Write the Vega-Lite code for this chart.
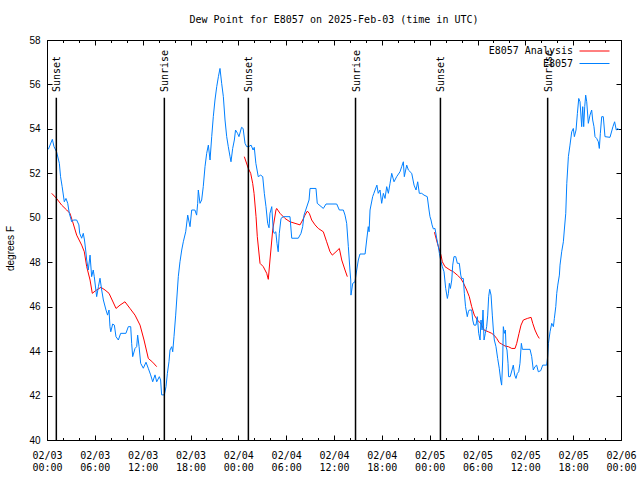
{
"$schema":"https://vega.github.io/schema/vega-lite/v6.json",
"width":574,"height":400,
"autosize":{"type":"none"},
"padding":{"left":47,"top":40,"right":19,"bottom":40},
"background":"white",
"title":{"text":"Dew Point for E8057 on 2025-Feb-03 (time in UTC)","font":"DejaVu Sans Mono","fontSize":10,"fontWeight":"normal","offset":10,"anchor":"middle","color":"black"},
"config":{"view":{"stroke":"black","strokeWidth":1},"axis":{"grid":false,"domain":false,"tickColor":"black","labelColor":"black","titleColor":"black"}},
"datasets":{
"sun":[
{"h":1.17,"label":"Sunset"},{"h":14.72,"label":"Sunrise"},{"h":25.26,"label":"Sunset"},
{"h":38.7,"label":"Sunrise"},{"h":49.35,"label":"Sunset"},{"h":62.8,"label":"Sunrise"}],
"dew":[
{"h":0.59,"v":51.1,"s":"E8057 Analysis","g":"a1"},{"h":1.2,"v":50.87,"s":"E8057 Analysis","g":"a1"},{"h":1.84,"v":50.57,"s":"E8057 Analysis","g":"a1"},{"h":2.47,"v":50.35,"s":"E8057 Analysis","g":"a1"},{"h":2.88,"v":50.2,"s":"E8057 Analysis","g":"a1"},{"h":3.22,"v":49.82,"s":"E8057 Analysis","g":"a1"},{"h":3.72,"v":49.22,"s":"E8057 Analysis","g":"a1"},{"h":4.35,"v":48.77,"s":"E8057 Analysis","g":"a1"},{"h":4.68,"v":48.47,"s":"E8057 Analysis","g":"a1"},{"h":4.98,"v":47.8,"s":"E8057 Analysis","g":"a1"},{"h":5.4,"v":47.2,"s":"E8057 Analysis","g":"a1"},{"h":5.68,"v":46.6,"s":"E8057 Analysis","g":"a1"},{"h":6.1,"v":46.72,"s":"E8057 Analysis","g":"a1"},{"h":6.77,"v":46.87,"s":"E8057 Analysis","g":"a1"},{"h":7.28,"v":46.75,"s":"E8057 Analysis","g":"a1"},{"h":7.78,"v":46.6,"s":"E8057 Analysis","g":"a1"},{"h":8.66,"v":45.92,"s":"E8057 Analysis","g":"a1"},{"h":9.16,"v":46.07,"s":"E8057 Analysis","g":"a1"},{"h":9.78,"v":46.22,"s":"E8057 Analysis","g":"a1"},{"h":10.41,"v":45.92,"s":"E8057 Analysis","g":"a1"},{"h":11.04,"v":45.62,"s":"E8057 Analysis","g":"a1"},{"h":11.67,"v":45.17,"s":"E8057 Analysis","g":"a1"},{"h":12.17,"v":44.5,"s":"E8057 Analysis","g":"a1"},{"h":12.71,"v":43.67,"s":"E8057 Analysis","g":"a1"},{"h":13.26,"v":43.5,"s":"E8057 Analysis","g":"a1"},{"h":13.76,"v":43.3,"s":"E8057 Analysis","g":"a1"},
{"h":24.75,"v":52.75,"s":"E8057 Analysis","g":"a2"},{"h":25.25,"v":52.22,"s":"E8057 Analysis","g":"a2"},{"h":25.55,"v":52.0,"s":"E8057 Analysis","g":"a2"},{"h":25.8,"v":51.55,"s":"E8057 Analysis","g":"a2"},{"h":25.97,"v":51.1,"s":"E8057 Analysis","g":"a2"},{"h":26.22,"v":50.05,"s":"E8057 Analysis","g":"a2"},{"h":26.38,"v":49.15,"s":"E8057 Analysis","g":"a2"},{"h":26.72,"v":47.95,"s":"E8057 Analysis","g":"a2"},{"h":27.13,"v":47.8,"s":"E8057 Analysis","g":"a2"},{"h":27.56,"v":47.5,"s":"E8057 Analysis","g":"a2"},{"h":27.76,"v":47.23,"s":"E8057 Analysis","g":"a2"},{"h":27.97,"v":48.1,"s":"E8057 Analysis","g":"a2"},{"h":28.31,"v":49.45,"s":"E8057 Analysis","g":"a2"},{"h":28.72,"v":50.35,"s":"E8057 Analysis","g":"a2"},{"h":28.81,"v":50.42,"s":"E8057 Analysis","g":"a2"},{"h":29.23,"v":50.2,"s":"E8057 Analysis","g":"a2"},{"h":29.85,"v":49.97,"s":"E8057 Analysis","g":"a2"},{"h":30.48,"v":49.82,"s":"E8057 Analysis","g":"a2"},{"h":31.11,"v":49.75,"s":"E8057 Analysis","g":"a2"},{"h":31.74,"v":49.68,"s":"E8057 Analysis","g":"a2"},{"h":32.07,"v":49.9,"s":"E8057 Analysis","g":"a2"},{"h":32.36,"v":50.12,"s":"E8057 Analysis","g":"a2"},{"h":32.66,"v":50.3,"s":"E8057 Analysis","g":"a2"},{"h":32.9,"v":50.2,"s":"E8057 Analysis","g":"a2"},{"h":33.2,"v":49.9,"s":"E8057 Analysis","g":"a2"},{"h":33.62,"v":49.68,"s":"E8057 Analysis","g":"a2"},{"h":34.03,"v":49.52,"s":"E8057 Analysis","g":"a2"},{"h":34.66,"v":49.37,"s":"E8057 Analysis","g":"a2"},{"h":35.08,"v":48.92,"s":"E8057 Analysis","g":"a2"},{"h":35.5,"v":48.47,"s":"E8057 Analysis","g":"a2"},{"h":35.79,"v":48.32,"s":"E8057 Analysis","g":"a2"},{"h":36.25,"v":48.47,"s":"E8057 Analysis","g":"a2"},{"h":36.67,"v":48.62,"s":"E8057 Analysis","g":"a2"},{"h":36.97,"v":48.1,"s":"E8057 Analysis","g":"a2"},{"h":37.38,"v":47.65,"s":"E8057 Analysis","g":"a2"},{"h":37.67,"v":47.35,"s":"E8057 Analysis","g":"a2"},
{"h":48.6,"v":49.35,"s":"E8057 Analysis","g":"a3"},{"h":48.97,"v":48.85,"s":"E8057 Analysis","g":"a3"},{"h":49.22,"v":48.55,"s":"E8057 Analysis","g":"a3"},{"h":49.42,"v":48.32,"s":"E8057 Analysis","g":"a3"},{"h":49.59,"v":48.02,"s":"E8057 Analysis","g":"a3"},{"h":49.92,"v":47.8,"s":"E8057 Analysis","g":"a3"},{"h":50.55,"v":47.65,"s":"E8057 Analysis","g":"a3"},{"h":50.97,"v":47.57,"s":"E8057 Analysis","g":"a3"},{"h":51.47,"v":47.42,"s":"E8057 Analysis","g":"a3"},{"h":51.9,"v":47.27,"s":"E8057 Analysis","g":"a3"},{"h":52.22,"v":47.08,"s":"E8057 Analysis","g":"a3"},{"h":52.64,"v":46.75,"s":"E8057 Analysis","g":"a3"},{"h":52.97,"v":46.45,"s":"E8057 Analysis","g":"a3"},{"h":53.27,"v":46.0,"s":"E8057 Analysis","g":"a3"},{"h":53.6,"v":45.62,"s":"E8057 Analysis","g":"a3"},{"h":53.98,"v":45.4,"s":"E8057 Analysis","g":"a3"},{"h":54.4,"v":45.25,"s":"E8057 Analysis","g":"a3"},{"h":54.82,"v":44.95,"s":"E8057 Analysis","g":"a3"},{"h":55.36,"v":44.87,"s":"E8057 Analysis","g":"a3"},{"h":55.78,"v":44.8,"s":"E8057 Analysis","g":"a3"},{"h":56.07,"v":44.72,"s":"E8057 Analysis","g":"a3"},{"h":56.41,"v":44.57,"s":"E8057 Analysis","g":"a3"},{"h":56.73,"v":44.38,"s":"E8057 Analysis","g":"a3"},{"h":57.03,"v":44.32,"s":"E8057 Analysis","g":"a3"},{"h":57.45,"v":44.23,"s":"E8057 Analysis","g":"a3"},{"h":57.87,"v":44.2,"s":"E8057 Analysis","g":"a3"},{"h":58.3,"v":44.12,"s":"E8057 Analysis","g":"a3"},{"h":58.71,"v":44.12,"s":"E8057 Analysis","g":"a3"},{"h":58.92,"v":44.35,"s":"E8057 Analysis","g":"a3"},{"h":59.21,"v":44.8,"s":"E8057 Analysis","g":"a3"},{"h":59.46,"v":45.17,"s":"E8057 Analysis","g":"a3"},{"h":59.75,"v":45.4,"s":"E8057 Analysis","g":"a3"},{"h":60.25,"v":45.47,"s":"E8057 Analysis","g":"a3"},{"h":60.72,"v":45.52,"s":"E8057 Analysis","g":"a3"},{"h":60.93,"v":45.25,"s":"E8057 Analysis","g":"a3"},{"h":61.21,"v":44.95,"s":"E8057 Analysis","g":"a3"},{"h":61.5,"v":44.72,"s":"E8057 Analysis","g":"a3"},{"h":61.75,"v":44.57,"s":"E8057 Analysis","g":"a3"},
{"h":0.17,"v":53.08,"s":"E8057","g":"o"},{"h":0.67,"v":53.53,"s":"E8057","g":"o"},{"h":0.88,"v":53.2,"s":"E8057","g":"o"},{"h":1.2,"v":52.97,"s":"E8057","g":"o"},{"h":1.55,"v":52.45,"s":"E8057","g":"o"},{"h":1.7,"v":51.85,"s":"E8057","g":"o"},{"h":1.9,"v":51.4,"s":"E8057","g":"o"},{"h":2.17,"v":50.72,"s":"E8057","g":"o"},{"h":2.38,"v":50.87,"s":"E8057","g":"o"},{"h":2.6,"v":50.65,"s":"E8057","g":"o"},{"h":2.8,"v":50.2,"s":"E8057","g":"o"},{"h":3.1,"v":49.82,"s":"E8057","g":"o"},{"h":3.3,"v":49.9,"s":"E8057","g":"o"},{"h":3.72,"v":49.9,"s":"E8057","g":"o"},{"h":4.0,"v":49.68,"s":"E8057","g":"o"},{"h":4.1,"v":49.3,"s":"E8057","g":"o"},{"h":4.35,"v":49.08,"s":"E8057","g":"o"},{"h":4.55,"v":49.3,"s":"E8057","g":"o"},{"h":4.7,"v":49.0,"s":"E8057","g":"o"},{"h":4.85,"v":48.55,"s":"E8057","g":"o"},{"h":4.98,"v":48.1,"s":"E8057","g":"o"},{"h":5.18,"v":47.65,"s":"E8057","g":"o"},{"h":5.4,"v":48.32,"s":"E8057","g":"o"},{"h":5.6,"v":47.35,"s":"E8057","g":"o"},{"h":5.8,"v":47.65,"s":"E8057","g":"o"},{"h":5.93,"v":47.35,"s":"E8057","g":"o"},{"h":6.23,"v":46.45,"s":"E8057","g":"o"},{"h":6.45,"v":46.9,"s":"E8057","g":"o"},{"h":6.65,"v":47.28,"s":"E8057","g":"o"},{"h":6.86,"v":46.75,"s":"E8057","g":"o"},{"h":7.07,"v":46.3,"s":"E8057","g":"o"},{"h":7.4,"v":45.85,"s":"E8057","g":"o"},{"h":7.6,"v":45.62,"s":"E8057","g":"o"},{"h":7.78,"v":45.85,"s":"E8057","g":"o"},{"h":7.9,"v":45.1,"s":"E8057","g":"o"},{"h":8.0,"v":44.87,"s":"E8057","g":"o"},{"h":8.24,"v":45.22,"s":"E8057","g":"o"},{"h":8.45,"v":45.17,"s":"E8057","g":"o"},{"h":8.65,"v":44.65,"s":"E8057","g":"o"},{"h":8.95,"v":44.5,"s":"E8057","g":"o"},{"h":9.24,"v":44.8,"s":"E8057","g":"o"},{"h":9.9,"v":44.8,"s":"E8057","g":"o"},{"h":10.2,"v":45.1,"s":"E8057","g":"o"},{"h":10.5,"v":45.1,"s":"E8057","g":"o"},{"h":10.62,"v":44.35,"s":"E8057","g":"o"},{"h":10.75,"v":43.75,"s":"E8057","g":"o"},{"h":11.04,"v":44.12,"s":"E8057","g":"o"},{"h":11.25,"v":44.2,"s":"E8057","g":"o"},{"h":11.37,"v":44.72,"s":"E8057","g":"o"},{"h":11.55,"v":44.2,"s":"E8057","g":"o"},{"h":11.75,"v":43.45,"s":"E8057","g":"o"},{"h":12.08,"v":43.23,"s":"E8057","g":"o"},{"h":12.42,"v":43.5,"s":"E8057","g":"o"},{"h":12.7,"v":43.23,"s":"E8057","g":"o"},{"h":13.0,"v":42.93,"s":"E8057","g":"o"},{"h":13.26,"v":42.62,"s":"E8057","g":"o"},{"h":13.55,"v":42.93,"s":"E8057","g":"o"},{"h":13.76,"v":42.62,"s":"E8057","g":"o"},{"h":14.09,"v":42.85,"s":"E8057","g":"o"},{"h":14.25,"v":42.7,"s":"E8057","g":"o"},{"h":14.38,"v":42.03,"s":"E8057","g":"o"},{"h":14.72,"v":42.03,"s":"E8057","g":"o"},{"h":14.93,"v":42.4,"s":"E8057","g":"o"},{"h":15.1,"v":43.0,"s":"E8057","g":"o"},{"h":15.3,"v":43.52,"s":"E8057","g":"o"},{"h":15.43,"v":44.05,"s":"E8057","g":"o"},{"h":15.64,"v":44.2,"s":"E8057","g":"o"},{"h":15.77,"v":43.97,"s":"E8057","g":"o"},{"h":15.93,"v":44.65,"s":"E8057","g":"o"},{"h":16.14,"v":45.62,"s":"E8057","g":"o"},{"h":16.27,"v":46.3,"s":"E8057","g":"o"},{"h":16.47,"v":47.35,"s":"E8057","g":"o"},{"h":16.68,"v":48.02,"s":"E8057","g":"o"},{"h":16.9,"v":48.55,"s":"E8057","g":"o"},{"h":17.1,"v":48.92,"s":"E8057","g":"o"},{"h":17.4,"v":49.37,"s":"E8057","g":"o"},{"h":17.65,"v":50.12,"s":"E8057","g":"o"},{"h":17.94,"v":49.6,"s":"E8057","g":"o"},{"h":18.15,"v":50.35,"s":"E8057","g":"o"},{"h":18.55,"v":50.35,"s":"E8057","g":"o"},{"h":18.77,"v":50.12,"s":"E8057","g":"o"},{"h":18.9,"v":50.65,"s":"E8057","g":"o"},{"h":18.98,"v":51.25,"s":"E8057","g":"o"},{"h":19.19,"v":50.65,"s":"E8057","g":"o"},{"h":19.4,"v":50.8,"s":"E8057","g":"o"},{"h":19.6,"v":51.4,"s":"E8057","g":"o"},{"h":19.82,"v":52.3,"s":"E8057","g":"o"},{"h":20.03,"v":52.9,"s":"E8057","g":"o"},{"h":20.24,"v":53.27,"s":"E8057","g":"o"},{"h":20.45,"v":52.6,"s":"E8057","g":"o"},{"h":20.66,"v":53.65,"s":"E8057","g":"o"},{"h":20.86,"v":54.55,"s":"E8057","g":"o"},{"h":21.07,"v":55.3,"s":"E8057","g":"o"},{"h":21.29,"v":55.9,"s":"E8057","g":"o"},{"h":21.5,"v":56.35,"s":"E8057","g":"o"},{"h":21.7,"v":56.72,"s":"E8057","g":"o"},{"h":21.91,"v":56.05,"s":"E8057","g":"o"},{"h":22.12,"v":55.45,"s":"E8057","g":"o"},{"h":22.33,"v":54.4,"s":"E8057","g":"o"},{"h":22.54,"v":53.65,"s":"E8057","g":"o"},{"h":22.74,"v":53.2,"s":"E8057","g":"o"},{"h":22.96,"v":52.75,"s":"E8057","g":"o"},{"h":23.08,"v":52.52,"s":"E8057","g":"o"},{"h":23.29,"v":53.12,"s":"E8057","g":"o"},{"h":23.5,"v":53.5,"s":"E8057","g":"o"},{"h":23.65,"v":53.95,"s":"E8057","g":"o"},{"h":23.9,"v":53.8,"s":"E8057","g":"o"},{"h":24.08,"v":53.65,"s":"E8057","g":"o"},{"h":24.4,"v":54.07,"s":"E8057","g":"o"},{"h":24.6,"v":54.02,"s":"E8057","g":"o"},{"h":24.84,"v":53.35,"s":"E8057","g":"o"},{"h":25.05,"v":53.2,"s":"E8057","g":"o"},{"h":25.3,"v":53.2,"s":"E8057","g":"o"},{"h":25.6,"v":53.27,"s":"E8057","g":"o"},{"h":25.85,"v":53.05,"s":"E8057","g":"o"},{"h":26.0,"v":53.17,"s":"E8057","g":"o"},{"h":26.2,"v":52.45,"s":"E8057","g":"o"},{"h":26.5,"v":51.85,"s":"E8057","g":"o"},{"h":26.8,"v":51.92,"s":"E8057","g":"o"},{"h":27.06,"v":51.85,"s":"E8057","g":"o"},{"h":27.26,"v":51.1,"s":"E8057","g":"o"},{"h":27.47,"v":50.5,"s":"E8057","g":"o"},{"h":27.68,"v":49.75,"s":"E8057","g":"o"},{"h":27.85,"v":49.55,"s":"E8057","g":"o"},{"h":27.97,"v":50.2,"s":"E8057","g":"o"},{"h":28.19,"v":50.5,"s":"E8057","g":"o"},{"h":28.39,"v":49.4,"s":"E8057","g":"o"},{"h":28.5,"v":49.3,"s":"E8057","g":"o"},{"h":28.7,"v":49.37,"s":"E8057","g":"o"},{"h":28.85,"v":48.85,"s":"E8057","g":"o"},{"h":29.0,"v":48.47,"s":"E8057","g":"o"},{"h":29.14,"v":49.3,"s":"E8057","g":"o"},{"h":29.35,"v":49.97,"s":"E8057","g":"o"},{"h":29.64,"v":50.05,"s":"E8057","g":"o"},{"h":30.48,"v":50.05,"s":"E8057","g":"o"},{"h":30.7,"v":49.08,"s":"E8057","g":"o"},{"h":31.52,"v":49.08,"s":"E8057","g":"o"},{"h":31.86,"v":49.3,"s":"E8057","g":"o"},{"h":32.07,"v":49.6,"s":"E8057","g":"o"},{"h":32.24,"v":50.12,"s":"E8057","g":"o"},{"h":32.87,"v":50.8,"s":"E8057","g":"o"},{"h":32.99,"v":51.32,"s":"E8057","g":"o"},{"h":33.74,"v":51.32,"s":"E8057","g":"o"},{"h":33.9,"v":50.65,"s":"E8057","g":"o"},{"h":34.66,"v":50.42,"s":"E8057","g":"o"},{"h":35.0,"v":50.62,"s":"E8057","g":"o"},{"h":36.34,"v":50.62,"s":"E8057","g":"o"},{"h":36.67,"v":50.35,"s":"E8057","g":"o"},{"h":37.17,"v":50.35,"s":"E8057","g":"o"},{"h":37.38,"v":50.12,"s":"E8057","g":"o"},{"h":37.59,"v":49.75,"s":"E8057","g":"o"},{"h":37.8,"v":48.7,"s":"E8057","g":"o"},{"h":38.0,"v":47.65,"s":"E8057","g":"o"},{"h":38.1,"v":47.2,"s":"E8057","g":"o"},{"h":38.13,"v":46.52,"s":"E8057","g":"o"},{"h":38.35,"v":47.05,"s":"E8057","g":"o"},{"h":38.63,"v":47.12,"s":"E8057","g":"o"},{"h":38.85,"v":47.65,"s":"E8057","g":"o"},{"h":39.05,"v":48.1,"s":"E8057","g":"o"},{"h":39.26,"v":48.37,"s":"E8057","g":"o"},{"h":39.9,"v":48.37,"s":"E8057","g":"o"},{"h":40.1,"v":49.0,"s":"E8057","g":"o"},{"h":40.3,"v":49.6,"s":"E8057","g":"o"},{"h":40.4,"v":49.37,"s":"E8057","g":"o"},{"h":40.52,"v":50.35,"s":"E8057","g":"o"},{"h":40.85,"v":50.95,"s":"E8057","g":"o"},{"h":41.0,"v":51.1,"s":"E8057","g":"o"},{"h":41.38,"v":51.47,"s":"E8057","g":"o"},{"h":41.55,"v":51.1,"s":"E8057","g":"o"},{"h":41.77,"v":51.25,"s":"E8057","g":"o"},{"h":41.98,"v":50.65,"s":"E8057","g":"o"},{"h":42.19,"v":51.1,"s":"E8057","g":"o"},{"h":42.4,"v":50.87,"s":"E8057","g":"o"},{"h":42.61,"v":51.4,"s":"E8057","g":"o"},{"h":42.82,"v":51.1,"s":"E8057","g":"o"},{"h":43.03,"v":51.55,"s":"E8057","g":"o"},{"h":43.24,"v":52.0,"s":"E8057","g":"o"},{"h":43.53,"v":51.62,"s":"E8057","g":"o"},{"h":43.86,"v":51.85,"s":"E8057","g":"o"},{"h":44.28,"v":52.07,"s":"E8057","g":"o"},{"h":44.49,"v":52.3,"s":"E8057","g":"o"},{"h":44.7,"v":52.52,"s":"E8057","g":"o"},{"h":44.82,"v":51.85,"s":"E8057","g":"o"},{"h":45.12,"v":52.37,"s":"E8057","g":"o"},{"h":45.33,"v":52.15,"s":"E8057","g":"o"},{"h":45.75,"v":52.0,"s":"E8057","g":"o"},{"h":46.04,"v":51.47,"s":"E8057","g":"o"},{"h":46.29,"v":51.25,"s":"E8057","g":"o"},{"h":46.5,"v":51.62,"s":"E8057","g":"o"},{"h":46.7,"v":51.1,"s":"E8057","g":"o"},{"h":47.0,"v":51.1,"s":"E8057","g":"o"},{"h":47.29,"v":51.02,"s":"E8057","g":"o"},{"h":47.7,"v":50.95,"s":"E8057","g":"o"},{"h":47.92,"v":50.35,"s":"E8057","g":"o"},{"h":48.04,"v":50.05,"s":"E8057","g":"o"},{"h":48.17,"v":49.9,"s":"E8057","g":"o"},{"h":48.3,"v":49.68,"s":"E8057","g":"o"},{"h":48.46,"v":49.5,"s":"E8057","g":"o"},{"h":48.67,"v":49.52,"s":"E8057","g":"o"},{"h":48.88,"v":49.08,"s":"E8057","g":"o"},{"h":49.09,"v":48.7,"s":"E8057","g":"o"},{"h":49.22,"v":48.4,"s":"E8057","g":"o"},{"h":49.42,"v":48.02,"s":"E8057","g":"o"},{"h":49.59,"v":47.8,"s":"E8057","g":"o"},{"h":49.8,"v":47.57,"s":"E8057","g":"o"},{"h":50.01,"v":46.82,"s":"E8057","g":"o"},{"h":50.22,"v":46.37,"s":"E8057","g":"o"},{"h":50.35,"v":46.6,"s":"E8057","g":"o"},{"h":50.47,"v":47.05,"s":"E8057","g":"o"},{"h":50.6,"v":46.82,"s":"E8057","g":"o"},{"h":50.77,"v":47.2,"s":"E8057","g":"o"},{"h":50.89,"v":47.87,"s":"E8057","g":"o"},{"h":51.05,"v":48.25,"s":"E8057","g":"o"},{"h":51.27,"v":48.25,"s":"E8057","g":"o"},{"h":51.47,"v":47.95,"s":"E8057","g":"o"},{"h":51.72,"v":47.95,"s":"E8057","g":"o"},{"h":51.9,"v":47.42,"s":"E8057","g":"o"},{"h":52.0,"v":47.27,"s":"E8057","g":"o"},{"h":52.22,"v":47.27,"s":"E8057","g":"o"},{"h":52.35,"v":46.6,"s":"E8057","g":"o"},{"h":52.5,"v":46.0,"s":"E8057","g":"o"},{"h":52.72,"v":45.55,"s":"E8057","g":"o"},{"h":52.85,"v":45.77,"s":"E8057","g":"o"},{"h":52.97,"v":45.85,"s":"E8057","g":"o"},{"h":53.27,"v":45.85,"s":"E8057","g":"o"},{"h":53.4,"v":45.4,"s":"E8057","g":"o"},{"h":53.56,"v":45.17,"s":"E8057","g":"o"},{"h":53.81,"v":45.17,"s":"E8057","g":"o"},{"h":53.98,"v":45.55,"s":"E8057","g":"o"},{"h":54.15,"v":44.8,"s":"E8057","g":"o"},{"h":54.32,"v":44.5,"s":"E8057","g":"o"},{"h":54.44,"v":45.4,"s":"E8057","g":"o"},{"h":54.57,"v":44.95,"s":"E8057","g":"o"},{"h":54.69,"v":45.85,"s":"E8057","g":"o"},{"h":54.82,"v":44.5,"s":"E8057","g":"o"},{"h":54.98,"v":44.8,"s":"E8057","g":"o"},{"h":55.15,"v":45.1,"s":"E8057","g":"o"},{"h":55.28,"v":45.62,"s":"E8057","g":"o"},{"h":55.4,"v":46.45,"s":"E8057","g":"o"},{"h":55.53,"v":46.78,"s":"E8057","g":"o"},{"h":55.7,"v":46.52,"s":"E8057","g":"o"},{"h":55.86,"v":45.62,"s":"E8057","g":"o"},{"h":55.99,"v":44.95,"s":"E8057","g":"o"},{"h":56.11,"v":44.5,"s":"E8057","g":"o"},{"h":56.32,"v":44.2,"s":"E8057","g":"o"},{"h":56.53,"v":43.67,"s":"E8057","g":"o"},{"h":56.73,"v":43.23,"s":"E8057","g":"o"},{"h":56.91,"v":42.7,"s":"E8057","g":"o"},{"h":57.03,"v":42.47,"s":"E8057","g":"o"},{"h":57.16,"v":43.6,"s":"E8057","g":"o"},{"h":57.24,"v":45.1,"s":"E8057","g":"o"},{"h":57.37,"v":44.8,"s":"E8057","g":"o"},{"h":57.5,"v":44.95,"s":"E8057","g":"o"},{"h":57.58,"v":44.2,"s":"E8057","g":"o"},{"h":57.7,"v":44.05,"s":"E8057","g":"o"},{"h":57.83,"v":43.45,"s":"E8057","g":"o"},{"h":57.9,"v":42.85,"s":"E8057","g":"o"},{"h":58.1,"v":42.85,"s":"E8057","g":"o"},{"h":58.33,"v":43.15,"s":"E8057","g":"o"},{"h":58.49,"v":43.37,"s":"E8057","g":"o"},{"h":58.67,"v":42.92,"s":"E8057","g":"o"},{"h":58.83,"v":42.77,"s":"E8057","g":"o"},{"h":59.0,"v":43.0,"s":"E8057","g":"o"},{"h":59.17,"v":43.07,"s":"E8057","g":"o"},{"h":59.33,"v":43.45,"s":"E8057","g":"o"},{"h":59.5,"v":44.35,"s":"E8057","g":"o"},{"h":59.63,"v":44.08,"s":"E8057","g":"o"},{"h":60.59,"v":44.08,"s":"E8057","g":"o"},{"h":60.8,"v":43.75,"s":"E8057","g":"o"},{"h":61.0,"v":43.15,"s":"E8057","g":"o"},{"h":61.21,"v":43.3,"s":"E8057","g":"o"},{"h":61.42,"v":43.37,"s":"E8057","g":"o"},{"h":61.63,"v":43.07,"s":"E8057","g":"o"},{"h":61.93,"v":43.12,"s":"E8057","g":"o"},{"h":62.18,"v":43.37,"s":"E8057","g":"o"},{"h":62.68,"v":43.37,"s":"E8057","g":"o"},{"h":62.8,"v":43.75,"s":"E8057","g":"o"},{"h":62.9,"v":44.35,"s":"E8057","g":"o"},{"h":63.1,"v":44.87,"s":"E8057","g":"o"},{"h":63.31,"v":45.25,"s":"E8057","g":"o"},{"h":63.52,"v":45.1,"s":"E8057","g":"o"},{"h":63.64,"v":45.47,"s":"E8057","g":"o"},{"h":63.82,"v":46.0,"s":"E8057","g":"o"},{"h":63.94,"v":46.6,"s":"E8057","g":"o"},{"h":64.07,"v":46.97,"s":"E8057","g":"o"},{"h":64.27,"v":47.42,"s":"E8057","g":"o"},{"h":64.35,"v":47.87,"s":"E8057","g":"o"},{"h":64.56,"v":48.47,"s":"E8057","g":"o"},{"h":64.77,"v":48.92,"s":"E8057","g":"o"},{"h":64.89,"v":49.45,"s":"E8057","g":"o"},{"h":65.07,"v":50.2,"s":"E8057","g":"o"},{"h":65.2,"v":51.55,"s":"E8057","g":"o"},{"h":65.4,"v":52.75,"s":"E8057","g":"o"},{"h":65.6,"v":53.27,"s":"E8057","g":"o"},{"h":65.82,"v":53.87,"s":"E8057","g":"o"},{"h":66.02,"v":54.02,"s":"E8057","g":"o"},{"h":66.15,"v":53.65,"s":"E8057","g":"o"},{"h":66.36,"v":53.95,"s":"E8057","g":"o"},{"h":66.53,"v":54.7,"s":"E8057","g":"o"},{"h":66.7,"v":55.37,"s":"E8057","g":"o"},{"h":66.86,"v":55.22,"s":"E8057","g":"o"},{"h":67.07,"v":54.1,"s":"E8057","g":"o"},{"h":67.2,"v":55.0,"s":"E8057","g":"o"},{"h":67.32,"v":54.1,"s":"E8057","g":"o"},{"h":67.45,"v":55.0,"s":"E8057","g":"o"},{"h":67.57,"v":55.52,"s":"E8057","g":"o"},{"h":67.7,"v":55.22,"s":"E8057","g":"o"},{"h":67.9,"v":54.25,"s":"E8057","g":"o"},{"h":68.11,"v":54.62,"s":"E8057","g":"o"},{"h":68.32,"v":54.85,"s":"E8057","g":"o"},{"h":68.45,"v":54.4,"s":"E8057","g":"o"},{"h":68.61,"v":54.1,"s":"E8057","g":"o"},{"h":68.74,"v":53.65,"s":"E8057","g":"o"},{"h":68.95,"v":53.57,"s":"E8057","g":"o"},{"h":69.16,"v":53.42,"s":"E8057","g":"o"},{"h":69.28,"v":53.12,"s":"E8057","g":"o"},{"h":69.41,"v":53.8,"s":"E8057","g":"o"},{"h":69.58,"v":54.55,"s":"E8057","g":"o"},{"h":69.78,"v":54.55,"s":"E8057","g":"o"},{"h":69.99,"v":53.65,"s":"E8057","g":"o"},{"h":70.62,"v":53.62,"s":"E8057","g":"o"},{"h":70.99,"v":54.1,"s":"E8057","g":"o"},{"h":71.2,"v":54.32,"s":"E8057","g":"o"},{"h":71.41,"v":53.95,"s":"E8057","g":"o"},{"h":71.62,"v":54.02,"s":"E8057","g":"o"},{"h":71.75,"v":53.95,"s":"E8057","g":"o"}]
},
"layer":[
{"data":{"name":"dew"},
 "mark":{"type":"line","strokeWidth":1,"clip":true},
 "encoding":{
  "x":{"field":"h","type":"quantitative","title":null,
   "scale":{"domain":[0,72],"nice":false,"zero":false},
   "axis":{"orient":"bottom","values":[0,6,12,18,24,30,36,42,48,54,60,66,72],"tickSize":-5,
     "labelExpr":"['02/0' + (3 + floor(datum.value / 24)), ((datum.value % 24) < 10 ? '0' : '') + (datum.value % 24) + ':00']",
     "labelFont":"DejaVu Sans Mono","labelFontSize":10,"labelPadding":15,"labelLineHeight":12,"labelOverlap":false,"labelFlush":false,"labelBound":false}},
  "y":{"field":"v","type":"quantitative","title":"degrees F",
   "scale":{"domain":[40,58],"nice":false,"zero":false},
   "axis":{"orient":"left","values":[40,42,44,46,48,50,52,54,56,58],"tickSize":-5,"labelPadding":12,
     "labelFont":"Liberation Sans","labelFontSize":10,"titleFont":"Liberation Sans","titleFontSize":10,"titleFontWeight":"normal","titleX":-37,"titleY":208,"titleBaseline":"middle"}},
  "color":{"field":"s","type":"nominal","sort":["E8057 Analysis","E8057"],
   "scale":{"domain":["E8057 Analysis","E8057"],"range":["#ff0000","#0080ff"]},
   "legend":{"title":null,"orient":"none","legendX":542,"legendY":5.5,"symbolType":"M-3,0H3","symbolSize":100,"symbolStrokeWidth":1,
     "labelAlign":"right","labelOffset":-27,"labelFont":"DejaVu Sans Mono","labelFontSize":10,"labelColor":"black","rowPadding":1.5}},
  "detail":{"field":"g","type":"nominal"}}},
{"data":{"name":"sun"},
 "mark":{"type":"rule","color":"black","strokeWidth":1.5},
 "encoding":{
  "x":{"field":"h","type":"quantitative","axis":{"orient":"top","labels":false,"title":null,"values":[0,6,12,18,24,30,36,42,48,54,60,66,72],"tickSize":-5}},
  "y":{"datum":55.4,"type":"quantitative","axis":{"orient":"right","labels":false,"title":null,"values":[40,42,44,46,48,50,52,54,56,58],"tickSize":-5}},
  "y2":{"datum":40}}},
{"data":{"name":"sun"},
 "mark":{"type":"text","angle":270,"align":"left","baseline":"middle","dy":1,"font":"DejaVu Sans Mono","fontSize":10,"color":"black"},
 "encoding":{
  "x":{"field":"h","type":"quantitative","axis":{"orient":"bottom","labels":false,"title":null,"values":[0,2,4,6,8,10,12,14,16,18,20,22,24,26,28,30,32,34,36,38,40,42,44,46,48,50,52,54,56,58,60,62,64,66,68,70,72],"tickSize":-2.5}},
  "y":{"datum":55.66,"type":"quantitative","axis":null},
  "text":{"field":"label"}}},
{"data":{"name":"sun"},
 "mark":{"type":"rule","opacity":0},
 "encoding":{
  "x":{"field":"h","type":"quantitative","axis":{"orient":"top","labels":false,"title":null,"values":[0,2,4,6,8,10,12,14,16,18,20,22,24,26,28,30,32,34,36,38,40,42,44,46,48,50,52,54,56,58,60,62,64,66,68,70,72],"tickSize":-2.5}},
  "y":{"datum":55.4,"type":"quantitative","axis":null},
  "y2":{"datum":40}}}
],
"resolve":{"axis":{"x":"independent","y":"independent"}}
}
